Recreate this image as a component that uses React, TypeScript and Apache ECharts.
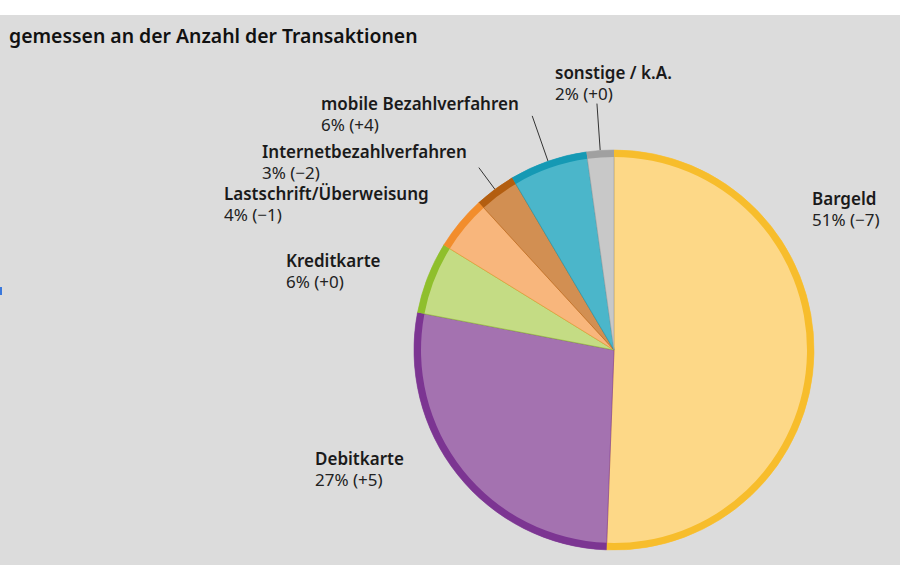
import { useEffect, useRef } from "react";
import * as echarts from "echarts";

const titleText = "gemessen an der Anzahl der Transaktionen";
const names = [
  "Bargeld",
  "Debitkarte",
  "Kreditkarte",
  "Lastschrift/Überweisung",
  "Internetbezahlverfahren",
  "mobile Bezahlverfahren",
  "sonstige / k.A.",
];
// slice sizes (labels show them rounded)
const shares = [50.6, 27.4, 5.8, 4.4, 3.3, 6.3, 2.2];
const changes = ["−7", "+5", "+0", "−1", "−2", "+4", "+0"];
const fillColors = ["#fdd887", "#a472b0", "#c4dc84", "#f8b67c", "#d28f52", "#4bb6ca", "#c8c8c8"];
const rimColors = ["#f7bd2c", "#7c3592", "#8fbf2c", "#f28d2c", "#b35e10", "#1599b4", "#a0a0a0"];
// label anchor (top-left of text block) and leader length, per slice
const labelPos = [
  [812, 188],
  [315, 448],
  [286, 250],
  [224, 183],
  [262, 140.5],
  [321, 93],
  [555, 62],
];
const leaderLen = [0, 0, 0, 0, 27, 48, 47];

export default function App(): JSX.Element {
  const chartRef = useRef(null);
  useEffect(() => {
    document.body.style.margin = "0";
    const chart = echarts.init(chartRef.current, null, { renderer: "svg" });
    const mainData = names.map((n, i) => ({
      name: n,
      value: shares[i],
      itemStyle: { color: fillColors[i], borderColor: rimColors[i] },
      labelLine: { show: leaderLen[i] > 0, length: leaderLen[i], length2: 0 },
    }));
    const rimData = names.map((n, i) => ({
      name: n,
      value: shares[i],
      itemStyle: { color: rimColors[i] },
    }));
    const option = {
      animation: false,
      backgroundColor: "#ffffff",
      title: {
        text: titleText,
        left: 4,
        top: 21,
        textStyle: { fontFamily: "Noto Sans", fontSize: 19.4, fontWeight: 600, color: "#111" },
      },
      graphic: [
        { type: "rect", z: -10, shape: { x: 0, y: 15, width: 900, height: 550 }, style: { fill: "#dcdcdc" } },
        { type: "rect", z: -5, shape: { x: 0, y: 287, width: 2, height: 8 }, style: { fill: "#3a78dc" } },
      ],
      series: [
        {
          type: "pie",
          center: [614, 350],
          radius: [0, 200],
          startAngle: 90,
          clockwise: true,
          avoidLabelOverlap: false,
          itemStyle: { borderWidth: 0.6 },
          emphasis: { disabled: true },
          label: {
            show: true,
            position: "outside",
            color: "#1a1a1a",
            fontFamily: "Noto Sans",
            formatter: (p: any) =>
              `{n|${p.name}}\n{v|${Math.round(p.value)}% (${changes[p.dataIndex]})}`,
            rich: {
              n: { fontFamily: "Noto Sans", fontSize: 17, fontWeight: 600, lineHeight: 21, color: "#1a1a1a" },
              v: { fontFamily: "Noto Sans", fontSize: 17, fontWeight: 400, lineHeight: 21, color: "#222" },
            },
          },
          labelLine: { lineStyle: { color: "#333", width: 1 }, smooth: false },
          labelLayout: (params: any) => {
            const p = labelPos[params.dataIndex];
            return {
              x: p[0],
              y: p[1],
              align: "left",
              verticalAlign: "top",
              labelLinePoints: params.labelLinePoints,
            };
          },
          data: mainData,
        },
        {
          type: "pie",
          center: [614, 350],
          radius: [193, 200],
          startAngle: 90,
          clockwise: true,
          silent: true,
          label: { show: false },
          labelLine: { show: false },
          itemStyle: { borderWidth: 0 },
          data: rimData,
        },
      ],
    };
    chart.setOption(option);
    return () => {
      chart.dispose();
    };
  }, []);

  return <div ref={chartRef} style={{ width: 900, height: 580 }}></div>;
}
